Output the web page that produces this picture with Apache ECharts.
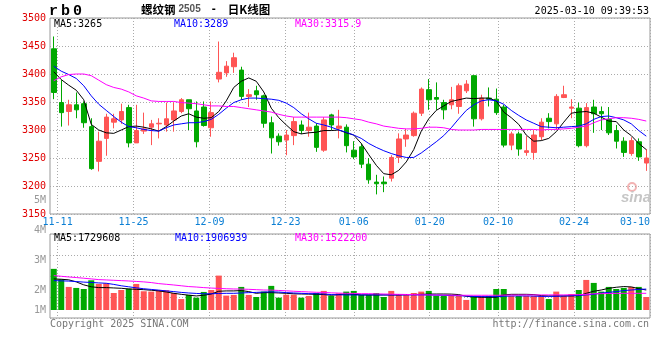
<!DOCTYPE html>
<html><head><meta charset="utf-8">
<script src="https://cdn.jsdelivr.net/npm/echarts@6/dist/echarts.min.js"></script>
<style>html,body{margin:0;padding:0;background:#fff}#c{width:660px;height:360px}</style>
</head><body><div id="c"></div>
<script>
// ---------- data ----------
const dates = ['11-08','11-11','11-12','11-13','11-14','11-15','11-18','11-19','11-20','11-21','11-22','11-25','11-26','11-27','11-28','11-29',
'12-02','12-03','12-04','12-05','12-06','12-09','12-10','12-11','12-12','12-13','12-16','12-17','12-18','12-19','12-20','12-23','12-24','12-25','12-26','12-27','12-30','12-31',
'01-02','01-03','01-06','01-07','01-08','01-09','01-10','01-13','01-14','01-15','01-16','01-17','01-20','01-21','01-22','01-23','01-24','01-27',
'02-05','02-06','02-07','02-10','02-11','02-12','02-13','02-14','02-17','02-18','02-19','02-20','02-21','02-24','02-25','02-26','02-27','02-28',
'03-03','03-04','03-05','03-06','03-07','03-10'];
const tickLabels = ['11-11','11-25','12-09','12-23','01-06','01-20','02-10','02-24','03-10'];
const priceMin = 3150, priceMax = 3500, priceStep = 50;
const volTickLabels = ['1M','2M','3M','4M','5M'];

const openP = [3445,3349,3333,3345,3347,3306,3244,3285,3314,3318, 3340,3277,3298,3305,3311,3309,3318,3333,3354,3334,
 3341,3304,3391,3402,3413,3407,3360,3370,3361,3313, 3289,3282,3290,3309,3299,3307,3264,3327,3303,3305,
 3264,3270,3239,3207,3207,3214,3251,3284,3290,3330, 3372,3358,3349,3345,3342,3370,3397,3320,3357,3355,
 3341,3273,3293,3260,3260,3288,3321,3311,3358,3339, 3339,3272,3341,3333,3319,3299,3280,3258,3279,3241];
const closeP = [3367,3331,3345,3336,3313,3231,3280,3323,3320,3333, 3277,3299,3302,3311,3312,3320,3334,3354,3338,3279,
 3308,3331,3403,3414,3429,3360,3363,3363,3312,3286, 3279,3291,3315,3299,3305,3269,3318,3309,3307,3272,
 3252,3239,3211,3204,3204,3251,3284,3291,3330,3373, 3354,3355,3336,3354,3379,3382,3320,3357,3355,3331,
 3273,3293,3266,3263,3291,3314,3315,3360,3363,3341, 3272,3340,3329,3329,3295,3280,3260,3281,3252,3250];
const lowP = [3355,3306,3308,3321,3304,3229,3226,3254,3303,3311, 3269,3277,3293,3273,3285,3297,3297,3330,3300,3269,
 3306,3288,3385,3395,3402,3354,3341,3354,3304,3258, 3272,3255,3273,3293,3288,3261,3261,3300,3285,3260,
 3248,3232,3204,3185,3189,3208,3241,3270,3288,3325, 3336,3336,3319,3337,3329,3366,3306,3317,3342,3327,
 3269,3264,3254,3254,3247,3282,3303,3301,3357,3321, 3269,3269,3295,3300,3291,3267,3252,3254,3245,3227];
const highP = [3467,3389,3354,3367,3351,3321,3297,3329,3329,3347, 3345,3345,3331,3318,3321,3349,3349,3357,3354,3351,
 3351,3351,3458,3423,3438,3413,3373,3379,3363,3324, 3294,3300,3323,3317,3331,3312,3323,3329,3336,3310,
 3280,3276,3250,3220,3217,3255,3294,3302,3333,3376, 3391,3385,3354,3377,3383,3389,3398,3363,3376,3374,
 3345,3297,3297,3289,3300,3321,3330,3364,3379,3355, 3349,3348,3354,3342,3341,3309,3287,3287,3285,3266];

const ma5 = [3404,3390,3380,3371,3354,3310,3300,3295,3294,3300, 3306,3307,3305,3302,3298,3306,3316,3325,3329,3323,
 3321,3322,3333,3352,3376,3387,3393,3387,3368,3339, 3322,3309,3297,3293,3295,3296,3299,3299,3300,3295,
 3291,3276,3256,3237,3222,3220,3228,3243,3265,3298, 3320,3335,3343,3351,3354,3357,3356,3357,3357,3352,
 3332,3322,3310,3291,3280,3281,3285,3297,3314,3330, 3332,3333,3330,3323,3316,3315,3300,3290,3276,3265];
const ma10 = [3414,3405,3399,3392,3379,3361,3346,3335,3324,3314, 3306,3304,3301,3299,3298,3304,3309,3311,3313,3313,
 3315,3319,3328,3339,3349,3354,3357,3357,3356,3355, 3353,3348,3340,3329,3320,3312,3309,3305,3300,3296,
 3291,3285,3276,3269,3263,3258,3254,3251,3251,3259, 3269,3279,3290,3304,3320,3335,3345,3352,3354,3352,
 3346,3335,3326,3318,3312,3306,3305,3304,3305,3306, 3307,3311,3319,3324,3325,3322,3318,3311,3299,3289];
const ma30 = [3388,3395,3399,3400,3400,3397,3389,3381,3376,3373, 3368,3361,3357,3352,3351,3351,3351,3349,3348,3347,
 3345,3343,3343,3342,3342,3340,3338,3336,3334,3332, 3328,3325,3323,3323,3323,3323,3323,3323,3323,3322,
 3320,3318,3314,3311,3307,3305,3303,3302,3302,3303, 3305,3305,3304,3301,3300,3300,3300,3301,3301,3301,
 3301,3301,3301,3301,3301,3300,3301,3301,3302,3303, 3305,3307,3313,3318,3320,3322,3322,3321,3319,3316];

const volume = [3600000,2690000,2020000,1930000,1840000,2600000,2280000,2340000,1490000,1750000,
 1870000,2280000,1640000,1610000,1750000,1730000,1490000,960000,1320000,1080000,
 1580000,1750000,3010000,1260000,1320000,2020000,1320000,1140000,1610000,2110000,
 1080000,1340000,1340000,1080000,1230000,1490000,1670000,1230000,1460000,1610000,
 1670000,1320000,1320000,1490000,1140000,1670000,1370000,1370000,1490000,1610000,
 1670000,1260000,1260000,1320000,1260000,880000,1230000,1230000,1230000,1840000,
 1840000,1230000,1230000,1230000,1230000,1230000,960000,1610000,1230000,1400000,
 1750000,2630000,2370000,1610000,2020000,1840000,1930000,2020000,2020000,1140000];
const vma5 = [2720000,2690000,2640000,2460000,2200000,2030000,1960000,1960000,1930000,1900000,
 1840000,1810000,1780000,1730000,1670000,1580000,1460000,1370000,1300000,1230000,
 1290000,1400000,1640000,1670000,1670000,1700000,1610000,1460000,1520000,1520000,
 1490000,1460000,1420000,1400000,1390000,1370000,1350000,1290000,1350000,1400000,
 1370000,1320000,1320000,1320000,1320000,1320000,1320000,1350000,1360000,1370000,
 1390000,1400000,1400000,1390000,1350000,1200000,1140000,1110000,1110000,1110000,
 1320000,1370000,1370000,1370000,1350000,1260000,1230000,1230000,1230000,1230000,
 1250000,1460000,1640000,1750000,1900000,1990000,2050000,2020000,1870000,1750000];
const vma10 = [2570000,2550000,2530000,2490000,2440000,2410000,2370000,2340000,2240000,2120000,
 2030000,1940000,1860000,1800000,1740000,1670000,1610000,1540000,1490000,1450000,
 1420000,1420000,1450000,1460000,1460000,1490000,1520000,1540000,1570000,1590000,
 1570000,1520000,1490000,1460000,1430000,1420000,1400000,1350000,1330000,1320000,
 1320000,1320000,1320000,1320000,1320000,1320000,1320000,1320000,1320000,1320000,
 1320000,1300000,1290000,1260000,1250000,1220000,1190000,1170000,1170000,1170000,
 1200000,1230000,1230000,1230000,1220000,1190000,1190000,1200000,1230000,1250000,
 1270000,1320000,1370000,1480000,1540000,1610000,1700000,1750000,1800000,1830000];
const vma30 = [3010000,2950000,2890000,2840000,2780000,2720000,2660000,2630000,2600000,2570000,
 2540000,2500000,2460000,2400000,2310000,2250000,2190000,2120000,2050000,2010000,
 1960000,1920000,1890000,1860000,1840000,1830000,1810000,1780000,1750000,1740000,
 1710000,1680000,1640000,1610000,1580000,1550000,1540000,1500000,1480000,1460000,
 1450000,1430000,1430000,1410000,1400000,1380000,1370000,1360000,1350000,1330000,
 1320000,1310000,1310000,1300000,1290000,1290000,1290000,1290000,1290000,1290000,
 1300000,1310000,1310000,1320000,1320000,1320000,1320000,1320000,1320000,1330000,
 1340000,1370000,1420000,1430000,1450000,1450000,1460000,1460000,1460000,1460000];

const symbolText = 'rb0';
const nameText = '螺纹钢', contractText = '2505', suffixText = '日K线图';
const timeText = '2025-03-10 09:39:53';
const priceMALabels = ['MA5:3265', 'MA10:3289', 'MA30:3315.9'];
const volMALabels = ['MA5:1729608', 'MA10:1906939', 'MA30:1522200'];
const copyText = 'Copyright 2025 SINA.COM', urlText = 'http://finance.sina.com.cn';

// ---------- chart ----------
const UP = '#ff5555', DOWN = '#00a800';
const mono = 'DejaVu Sans Mono';
const grid = '#aaaaaa';
const isTick = (i, v) => tickLabels.indexOf(v) >= 0;
const maColors = ['#000000', '#0000ff', '#ff00ff'];

function plainTitle(text, pos, color, extra) {
  return Object.assign({text, padding: 0, textStyle: Object.assign({fontFamily: mono, fontSize: 10, fontWeight: 'normal', color, lineHeight: 12}, extra || {})}, pos);
}

const titles = [
  {text: symbolText.split('').map(c => '{a|' + c + '}').join(''), left: 49, top: 3, padding: 0,
   textStyle: {rich: {a: {fontFamily: 'Liberation Mono', fontWeight: 'bold', fontSize: 15, color: '#000', padding: [0, 3, 0, 0], lineHeight: 16}}}},
  {text: '{cn|' + nameText + '}{num|' + contractText + '}{d| - }{cn|' + suffixText + '}', left: 141, top: 2, padding: 0,
   textStyle: {rich: {
     cn: {fontFamily: 'Noto Sans CJK SC', fontWeight: 'bold', fontSize: 11.5, color: '#000', lineHeight: 15},
     num: {fontFamily: 'Liberation Sans', fontSize: 10, color: '#555', padding: [0, 0, 0, 3], lineHeight: 15},
     d: {fontFamily: mono, fontSize: 10, color: '#000', padding: [0, 5, 0, 4], lineHeight: 15}}}},
  plainTitle(timeText, {right: 11, top: 5}, '#000'),
  plainTitle(priceMALabels[0], {left: 54, top: 18}, maColors[0]),
  plainTitle(priceMALabels[1], {left: 174, top: 18}, maColors[1]),
  plainTitle(priceMALabels[2], {left: 295, top: 18}, maColors[2]),
  plainTitle(volMALabels[0], {left: 54, top: 232.5}, maColors[0]),
  plainTitle(volMALabels[1], {left: 175, top: 232.5}, maColors[1]),
  plainTitle(volMALabels[2], {left: 295, top: 232.5}, maColors[2]),
  plainTitle(copyText, {left: 50, top: 318}, '#777'),
  plainTitle(urlText, {right: 11, top: 318}, '#777'),
  {text: 'sina', right: 9, top: 190, padding: 0,
   textStyle: {fontFamily: 'Liberation Sans', fontStyle: 'italic', fontWeight: 'bold', fontSize: 15, color: '#c6c6c6'}}
];

const dotted = {color: grid, type: [1, 2], width: 1};
const option = {
  animation: false,
  backgroundColor: '#ffffff',
  title: titles,
  graphic: [
    {type: 'circle', shape: {cx: 632, cy: 187, r: 4}, style: {fill: 'none', stroke: '#f3b3b3', lineWidth: 2}, silent: true}
  ],
  grid: [
    {left: 50, top: 18, width: 600, height: 196, show: true, borderColor: '#999', borderWidth: 1, backgroundColor: 'transparent'},
    {left: 50, top: 234, width: 600, height: 84, show: true, borderColor: '#999', borderWidth: 1, backgroundColor: 'transparent'},
    {left: 50, top: 200.5, width: 600, height: 120, show: false}
  ],
  xAxis: [
    {type: 'category', gridIndex: 0, data: dates, boundaryGap: true, show: false, position: 'top'},
    {type: 'category', gridIndex: 0, data: dates, boundaryGap: false, position: 'bottom',
     axisLine: {show: false, onZero: false}, axisTick: {show: false},
     axisLabel: {interval: isTick, color: '#0b7fd4', fontFamily: mono, fontSize: 10, margin: 3, alignMaxLabel: 'right'},
     splitLine: {show: true, interval: isTick, lineStyle: dotted}},
    {type: 'category', gridIndex: 1, data: dates, boundaryGap: true, show: false, position: 'top'},
    {type: 'category', gridIndex: 1, data: dates, boundaryGap: false, position: 'bottom',
     axisLine: {show: false, onZero: false}, axisTick: {show: false}, axisLabel: {show: false},
     splitLine: {show: true, interval: isTick, lineStyle: dotted}},
    {type: 'category', gridIndex: 2, data: dates, show: false}
  ],
  yAxis: [
    {type: 'value', gridIndex: 0, min: priceMin, max: priceMax, interval: priceStep,
     axisLine: {show: false}, axisTick: {show: false},
     axisLabel: {color: '#e00000', fontFamily: mono, fontSize: 10, margin: 4, formatter: v => String(v)},
     splitLine: {show: true, lineStyle: dotted}},
    {type: 'value', gridIndex: 1, min: -700000, max: 6650000, show: false, splitLine: {show: false}},
    {type: 'value', gridIndex: 1, min: 0, max: 4, interval: 1,
     axisLine: {show: false}, axisTick: {show: false}, axisLabel: {show: false},
     splitLine: {show: true, lineStyle: dotted}},
    {type: 'value', gridIndex: 2, min: 1, max: 5, interval: 1,
     axisLine: {show: false}, axisTick: {show: false}, splitLine: {show: false},
     axisLabel: {color: '#999', fontFamily: mono, fontSize: 10, margin: 4,
       formatter: v => v === 1 ? '{lo|' + volTickLabels[0] + '}' : volTickLabels[v - 1],
       rich: {lo: {padding: [0, 0, 20, 0], color: '#999', fontFamily: mono, fontSize: 10}}}}
  ],
  series: [
    {type: 'candlestick', xAxisIndex: 0, yAxisIndex: 0, barWidth: 5,
     data: openP.map((o, i) => [o, closeP[i], lowP[i], highP[i]]),
     itemStyle: {color: UP, color0: DOWN, borderColor: UP, borderColor0: DOWN, borderWidth: 1}},
    {type: 'line', name: 'MA5', xAxisIndex: 0, yAxisIndex: 0, data: ma5, symbol: 'none', lineStyle: {color: maColors[0], width: 1}},
    {type: 'line', name: 'MA10', xAxisIndex: 0, yAxisIndex: 0, data: ma10, symbol: 'none', lineStyle: {color: maColors[1], width: 1}},
    {type: 'line', name: 'MA30', xAxisIndex: 0, yAxisIndex: 0, data: ma30, symbol: 'none', lineStyle: {color: maColors[2], width: 1}},
    {type: 'bar', xAxisIndex: 2, yAxisIndex: 1, barWidth: 6,
     data: volume.map((v, i) => ({value: v, itemStyle: {color: closeP[i] >= openP[i] ? UP : DOWN}}))},
    {type: 'line', xAxisIndex: 2, yAxisIndex: 1, data: vma5, symbol: 'none', lineStyle: {color: maColors[0], width: 1}},
    {type: 'line', xAxisIndex: 2, yAxisIndex: 1, data: vma10, symbol: 'none', lineStyle: {color: maColors[1], width: 1}},
    {type: 'line', xAxisIndex: 2, yAxisIndex: 1, data: vma30, symbol: 'none', lineStyle: {color: maColors[2], width: 1}}
  ]
};
const chart = echarts.init(document.getElementById('c'), null, {renderer: 'canvas'});
chart.setOption(option);
</script>
</body></html>
